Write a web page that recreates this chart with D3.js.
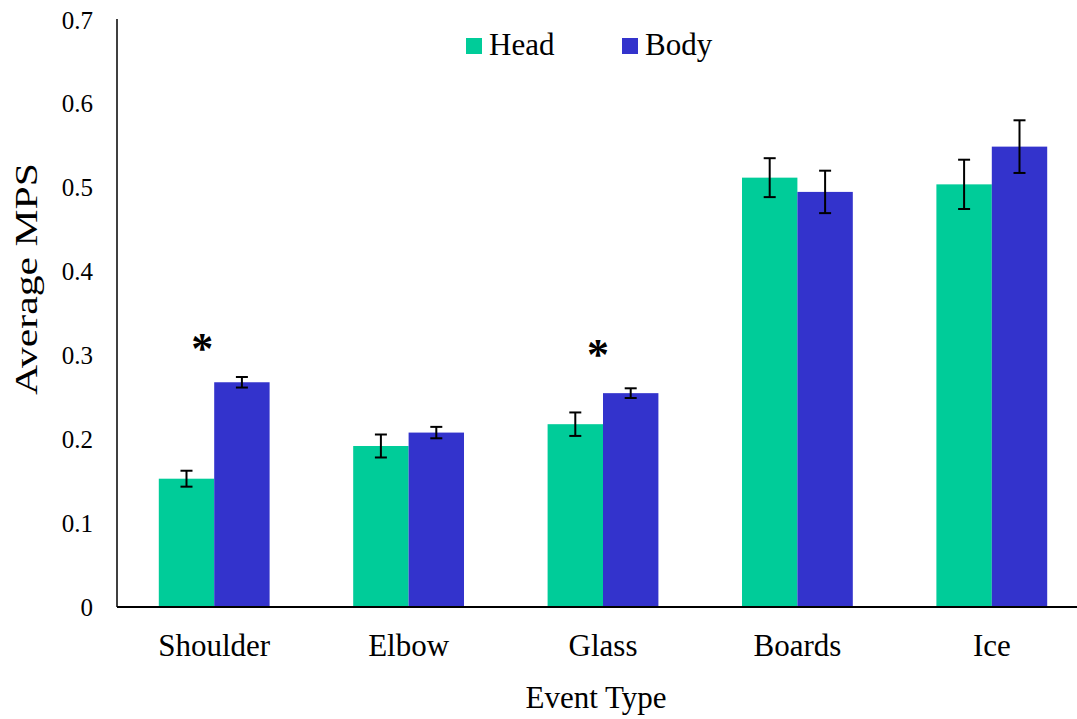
<!DOCTYPE html>
<html>
<head>
<meta charset="utf-8">
<script src="https://cdn.jsdelivr.net/npm/d3@7"></script>
<style>
  html, body { margin: 0; padding: 0; background: #fff; }
  svg { display: block; font-family: "Liberation Serif", "Times New Roman", serif; }
</style>
</head>
<body>
<svg id="chart" width="1077" height="719"></svg>
<script>
// Event types on the x axis
const categories = ["Shoulder", "Elbow", "Glass", "Boards", "Ice"];
// Series names
const seriesNames = ["Head", "Body"];
// Average MPS per event type
const headValues = [0.153, 0.192, 0.218, 0.512, 0.504];
const bodyValues = [0.268, 0.208, 0.255, 0.495, 0.549];
// Error bar half-widths (standard error)
const headErrors = [0.0095, 0.0137, 0.014, 0.0232, 0.0294];
const bodyErrors = [0.0063, 0.0068, 0.0058, 0.0253, 0.0314];
// Y axis ticks
const yTicks = [0, 0.1, 0.2, 0.3, 0.4, 0.5, 0.6, 0.7];
// Significance markers
const sigCategories = ["Shoulder", "Glass"];
const sigLevels = [0.316, 0.309];

const colors = { Head: "#00CC99", Body: "#3333CC" };

const svg = d3.select("#chart");
const plotLeft = 117, plotTop = 20, plotBottom = 607;

const x = d3.scaleBand()
  .domain(categories)
  .range([plotLeft, 1089])
  .paddingInner(0.43)
  .paddingOuter(0.215);

const xs = d3.scaleBand()
  .domain(seriesNames)
  .range([0, x.bandwidth()]);

const y = d3.scaleLinear().domain([0, 0.7]).range([plotBottom, plotTop]);

const rows = categories.map((c, i) => ({
  category: c,
  values: [
    { series: "Head", value: headValues[i], err: headErrors[i] },
    { series: "Body", value: bodyValues[i], err: bodyErrors[i] }
  ]
}));

// Bars
const groups = svg.append("g").selectAll("g")
  .data(rows).join("g")
  .attr("transform", d => `translate(${x(d.category)},0)`);

groups.selectAll("rect")
  .data(d => d.values).join("rect")
  .attr("x", d => xs(d.series))
  .attr("width", xs.bandwidth())
  .attr("y", d => y(d.value))
  .attr("height", d => y(0) - y(d.value))
  .attr("fill", d => colors[d.series]);

// Error bars
const capHalf = 6;
const eb = groups.selectAll("g.err")
  .data(d => d.values).join("g")
  .attr("class", "err")
  .attr("stroke", "#000")
  .attr("stroke-width", 2);
eb.append("line")
  .attr("x1", d => xs(d.series) + xs.bandwidth() / 2)
  .attr("x2", d => xs(d.series) + xs.bandwidth() / 2)
  .attr("y1", d => y(d.value - d.err))
  .attr("y2", d => y(d.value + d.err));
eb.append("line")
  .attr("x1", d => xs(d.series) + xs.bandwidth() / 2 - capHalf)
  .attr("x2", d => xs(d.series) + xs.bandwidth() / 2 + capHalf)
  .attr("y1", d => y(d.value + d.err))
  .attr("y2", d => y(d.value + d.err));
eb.append("line")
  .attr("x1", d => xs(d.series) + xs.bandwidth() / 2 - capHalf)
  .attr("x2", d => xs(d.series) + xs.bandwidth() / 2 + capHalf)
  .attr("y1", d => y(d.value - d.err))
  .attr("y2", d => y(d.value - d.err));

// Y axis
const yAxis = svg.append("g")
  .attr("transform", `translate(${plotLeft},0)`)
  .call(d3.axisLeft(y).tickValues(yTicks).tickSize(0).tickPadding(24)
    .tickFormat(d => d === 0 ? "0" : d3.format(".1f")(d)));
yAxis.select(".domain").attr("stroke", "#000").attr("stroke-width", 1.5)
  .attr("d", `M0,${plotTop - 1}V${plotBottom}`);
yAxis.selectAll("text").attr("font-size", 25).attr("fill", "#000")
  .attr("font-family", "Liberation Serif");

// X axis
const xAxis = svg.append("g")
  .attr("transform", `translate(0,${plotBottom})`)
  .call(d3.axisBottom(x).tickSize(0).tickPadding(27));
xAxis.select(".domain").attr("stroke", "#000").attr("stroke-width", 2.2)
  .attr("d", `M${plotLeft},0H1089`);
xAxis.selectAll("text").attr("font-size", 31).attr("fill", "#000")
  .attr("font-family", "Liberation Serif");

// Axis titles
svg.append("text")
  .attr("x", 596).attr("y", 708)
  .attr("text-anchor", "middle")
  .attr("font-size", 31)
  .text("Event Type");

svg.append("text")
  .attr("transform", "translate(37,279) rotate(-90)")
  .attr("text-anchor", "middle")
  .attr("font-size", 31)
  .attr("textLength", 232)
  .attr("lengthAdjust", "spacingAndGlyphs")
  .text("Average MPS");

// Significance asterisks
const sigDx = [-12, -5];
svg.append("g").selectAll("text")
  .data(sigCategories).join("text")
  .attr("x", (c, i) => x(c) + x.bandwidth() / 2 + sigDx[i])
  .attr("y", (c, i) => y(sigLevels[i]))
  .attr("dy", "0.48em")
  .attr("text-anchor", "middle")
  .attr("font-size", 44)
  .attr("font-weight", "bold")
  .text("*");

// Legend
const legendX = [466, 622];
const lg = svg.append("g").selectAll("g")
  .data(seriesNames).join("g")
  .attr("transform", (d, i) => `translate(${legendX[i]},38)`);
lg.append("rect").attr("width", 16).attr("height", 16)
  .attr("fill", d => colors[d]);
lg.append("text").attr("x", 23).attr("y", 17)
  .attr("font-size", 31)
  .text(d => d);
</script>
</body>
</html>
